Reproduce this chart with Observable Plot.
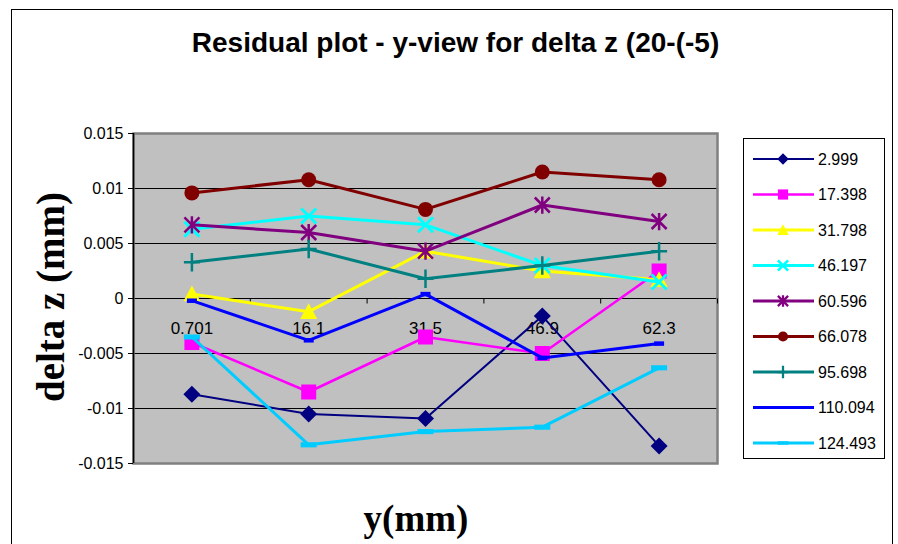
<!DOCTYPE html>
<html><head><meta charset="utf-8">
<script src="https://cdn.jsdelivr.net/npm/d3@7"></script>
<script src="https://cdn.jsdelivr.net/npm/@observablehq/plot@0.6"></script>
<style>
body{margin:0;background:#fff;}
#wrap{position:relative;width:898px;height:544px;overflow:hidden;font-family:"Liberation Sans",Arial,sans-serif;background:#fff;}
#chart{position:absolute;left:0;top:0;}
#border{position:absolute;left:11px;top:9px;width:880px;height:600px;border:1.5px solid #000;pointer-events:none;}
#title{position:absolute;left:15px;width:881px;top:29px;text-align:center;font-weight:bold;font-size:28px;line-height:1;}
#ylab{position:absolute;left:50px;top:297px;transform:translate(-50%,-50%) rotate(-90deg);font-family:"Liberation Serif","Times New Roman",serif;font-weight:bold;font-size:39px;white-space:nowrap;line-height:1;}
#xlab{position:absolute;left:416px;top:518px;transform:translate(-50%,-50%);font-family:"Liberation Serif","Times New Roman",serif;font-weight:bold;font-size:37px;white-space:nowrap;line-height:1;}
#legend{position:absolute;left:743px;top:138px;width:140px;height:319px;border:1px solid #000;background:#fff;}
</style>
</head><body>
<div id="wrap">
  <div id="chart"></div>
  <div id="border"></div>
  <div id="title">Residual plot - y-view for delta z (20-(-5)</div>
  <div id="ylab">delta z (mm)</div>
  <div id="xlab">y(mm)</div>
  <div id="legend"></div>
</div>
<script>
// ---- data ----
const categories = ["0.701", "16.1", "31.5", "46.9", "62.3"];
const seriesNames = ["2.999", "17.398", "31.798", "46.197", "60.596", "66.078", "95.698", "110.094", "124.493"];
const s2999   = [-0.0087, -0.0105, -0.0109, -0.0016, -0.0134];
const s17398  = [-0.0040, -0.0085, -0.0035, -0.0050,  0.0025];
const s31798  = [ 0.0004, -0.0012,  0.0043,  0.0025,  0.0017];
const s46197  = [ 0.0063,  0.0075,  0.0067,  0.0030,  0.0015];
const s60596  = [ 0.0067,  0.0060,  0.0043,  0.0085,  0.0070];
const s66078  = [ 0.0096,  0.0108,  0.0081,  0.0115,  0.0108];
const s95698  = [ 0.0033,  0.0045,  0.0018,  0.0030,  0.0043];
const s110094 = [-0.0002, -0.0038,  0.0004, -0.0054, -0.0041];
const s124493 = [-0.0035, -0.0133, -0.0121, -0.0117, -0.0063];
const seriesValues = [s2999, s17398, s31798, s46197, s60596, s66078, s95698, s110094, s124493];
const yTicks = [-0.015, -0.01, -0.005, 0, 0.005, 0.01, 0.015];
const yTickLabels = ["-0.015", "-0.01", "-0.005", "0", "0.005", "0.01", "0.015"];

// ---- symbols ----
const rOf = s => Math.sqrt(s / Math.PI);
const symDiamond = {draw(c, s){const r = rOf(s); c.moveTo(0,-r); c.lineTo(r,0); c.lineTo(0,r); c.lineTo(-r,0); c.closePath();}};
const symSquare = {draw(c, s){const r = rOf(s); c.rect(-r,-r,2*r,2*r);}};
const symTriangle = {draw(c, s){const r = rOf(s); c.moveTo(0,-r); c.lineTo(r,r*0.85); c.lineTo(-r,r*0.85); c.closePath();}};
const symTimes = {draw(c, s){const r = rOf(s); c.moveTo(-r,-r); c.lineTo(r,r); c.moveTo(r,-r); c.lineTo(-r,r);}};
const symAsterisk = {draw(c, s){const r = rOf(s); c.moveTo(-r,-r); c.lineTo(r,r); c.moveTo(r,-r); c.lineTo(-r,r); c.moveTo(0,-r*1.15); c.lineTo(0,r*1.15);}};
const symCircle = {draw(c, s){const r = rOf(s); c.moveTo(r,0); c.arc(0,0,r,0,2*Math.PI);}};
const symPlus = {draw(c, s){const r = rOf(s); c.moveTo(-r,0); c.lineTo(r,0); c.moveTo(0,-r*1.15); c.lineTo(0,r*1.15);}};
const symDash = {draw(c, s){const r = rOf(s); c.rect(-r,-r*0.45,2*r,r*0.9);}};
const symDashWide = {draw(c, s){const r = rOf(s); c.rect(-r,-r*0.32,2*r,r*0.64);}};
const symTick = {draw(c, s){const r = rOf(s); c.moveTo(0,0); c.lineTo(0,r);}};

const styles = [
  {color:"#000080", lw:2,   sym:symDiamond,  r:8.5, filled:true},
  {color:"#FF00FF", lw:2.5, sym:symSquare,   r:7.5, filled:true},
  {color:"#FFFF00", lw:3,   sym:symTriangle, r:8.5, filled:true},
  {color:"#00FFFF", lw:3,   sym:symTimes,    r:7.5, filled:false, sw:3},
  {color:"#800080", lw:3,   sym:symAsterisk, r:7.5, filled:false, sw:2.5},
  {color:"#800000", lw:3,   sym:symCircle,   r:7.5, filled:true},
  {color:"#008080", lw:3,   sym:symPlus,     r:8,   filled:false, sw:2.5},
  {color:"#0000FF", lw:3,   sym:symDash,     r:5,   filled:true},
  {color:"#00CCFF", lw:3,   sym:symDashWide, r:8,   filled:true}
];

const boundaries = categories.map((_, i) => i + 0.5);

const seriesMarks = seriesNames.flatMap((name, si) => {
  const st = styles[si];
  const rows = seriesValues[si].map((v, i) => ({i, v}));
  return [
    Plot.line(rows, {x:"i", y:"v", stroke:st.color, strokeWidth:st.lw, curve:"linear"}),
    Plot.dot(rows, st.filled
      ? {x:"i", y:"v", symbol:st.sym, r:st.r, fill:st.color, stroke:"none"}
      : {x:"i", y:"v", symbol:st.sym, r:st.r, fill:"none", stroke:st.color, strokeWidth:st.sw})
  ];
});

const chart = Plot.plot({
  width: 898,
  height: 544,
  marginLeft: 133,
  marginRight: 181,
  marginTop: 133,
  marginBottom: 81,
  style: {fontFamily: '"Liberation Sans", Arial, sans-serif', background: "transparent", color: "#000"},
  x: {type:"linear", domain:[-0.5, categories.length - 0.5], axis:null},
  y: {type:"linear", domain:[-0.015, 0.015], axis:null},
  marks: [
    Plot.frame({fill:"#C0C0C0", stroke:"none"}),
    Plot.ruleY(yTicks.slice(1, -1), {y:d => d, stroke:"#000", strokeWidth:1}),
    Plot.frame({fill:"none", stroke:"#808080", strokeWidth:2.5}),
    Plot.ruleX([-0.5], {x:d => d, stroke:"#000", strokeWidth:1.5}),
    Plot.axisY(yTicks, {tickFormat:d => yTickLabels[yTicks.indexOf(d)], tickSize:5, tickPadding:5, fontSize:16, label:null}),
    Plot.dot(boundaries, {x:d => d, y:() => 0, symbol:symTick, r:5, stroke:"#000", strokeWidth:1}),
    Plot.text(categories, {x:(d, i) => i, y:() => 0, dy:30, text:d => d, fontSize:17, fill:"#000"}),
    ...seriesMarks
  ]
});
document.getElementById("chart").appendChild(chart);

// ---- legend ----
const lg = d3.select("#legend").append("svg").attr("width", 140).attr("height", 319)
  .style("font-family", '"Liberation Sans", Arial, sans-serif');
seriesNames.forEach((name, si) => {
  const st = styles[si];
  const y = 20 + si * 35.5;
  const g = lg.append("g").attr("transform", `translate(0,${y})`);
  g.append("line").attr("x1", 9).attr("x2", 70).attr("y1", 0).attr("y2", 0)
    .attr("stroke", st.color).attr("stroke-width", st.lw);
  const rr = st.r * 0.68;
  const p = g.append("path").attr("transform", "translate(39,0)")
    .attr("d", d3.symbol().type(st.sym).size(Math.PI * rr * rr)());
  if (st.filled) p.attr("fill", st.color);
  else p.attr("fill", "none").attr("stroke", st.color).attr("stroke-width", st.sw * 0.9);
  g.append("text").attr("x", 74).attr("y", 0).attr("dy", "0.35em").attr("font-size", 16).attr("fill", "#000").text(name);
});
</script>
</body></html>
